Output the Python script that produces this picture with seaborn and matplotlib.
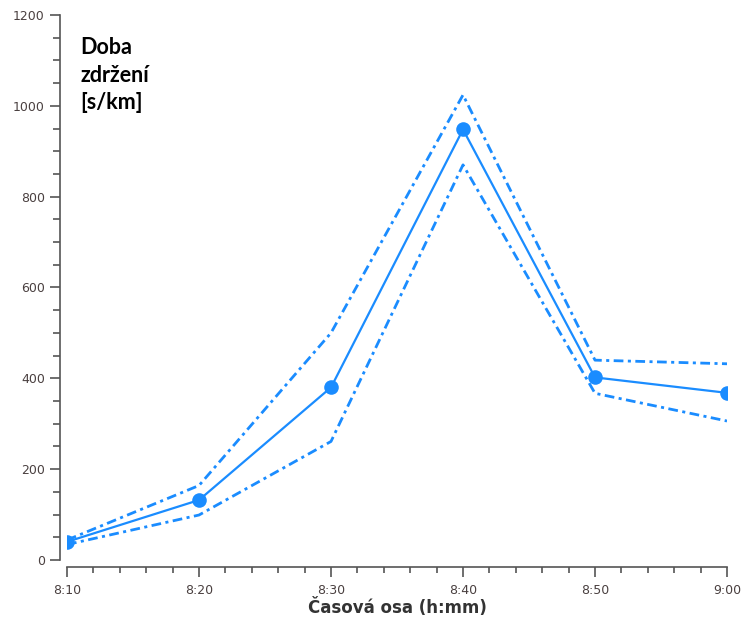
import matplotlib
matplotlib.use('Agg')
import matplotlib.pyplot as plt
import seaborn as sns
import pandas as pd
from matplotlib.ticker import MultipleLocator

# Data
times = ['8:10', '8:20', '8:30', '8:40', '8:50', '9:00']
delay_mean = [40, 132, 380, 948, 402, 368]
delay_upper = [44, 164, 500, 1024, 440, 432]
delay_lower = [34, 99, 261, 870, 367, 306]

blue = '#1a8cff'

sns.set_theme(style='ticks')
plt.rcParams['font.family'] = ['DejaVu Sans']

# minutes since 8:10 for plotting
minutes = [int(t.split(':')[0]) * 60 + int(t.split(':')[1]) for t in times]
minutes = [m - minutes[0] for m in minutes]
df = pd.DataFrame({'min': minutes, 'mean': delay_mean,
                   'upper': delay_upper, 'lower': delay_lower})

fig = plt.figure(figsize=(7.42, 6.22), dpi=100)
ax = fig.add_axes([0.0903, 0.0997, 0.8895, 0.8762])

dashdot = (0, (3.5, 1.6, 1.1, 1.6))
sns.lineplot(data=df, x='min', y='upper', ax=ax, color=blue, lw=2, linestyle=dashdot)
sns.lineplot(data=df, x='min', y='lower', ax=ax, color=blue, lw=2, linestyle=dashdot)
sns.lineplot(data=df, x='min', y='mean', ax=ax, color=blue, lw=1.6,
             marker='o', markersize=10.5, markeredgewidth=0)

ax.set_xlim(minutes[0], minutes[-1])
ax.set_ylim(0, 1200)
ax.set_xticks(minutes)
ax.set_xticklabels(times)
ax.xaxis.set_minor_locator(MultipleLocator(2))
ax.yaxis.set_major_locator(MultipleLocator(200))
ax.yaxis.set_minor_locator(MultipleLocator(50))

sns.despine(ax=ax)
ax.spines['left'].set_position(('outward', 5))
ax.spines['bottom'].set_position(('outward', 5))
for s in ['left', 'bottom']:
    ax.spines[s].set_color('#555555')
    ax.spines[s].set_linewidth(1.2)

ax.tick_params(axis='y', which='major', length=7, width=1.2, color='#555555',
               labelsize=9, labelcolor='#4a4040', pad=4)
ax.tick_params(axis='y', which='minor', length=5, width=1.2, color='#555555')
ax.tick_params(axis='x', which='major', length=7, width=1.2, color='#555555',
               labelsize=9, labelcolor='#4a4040', pad=5)
ax.tick_params(axis='x', which='minor', length=4, width=1.2, color='#555555')

ax.set_xlabel('Časová osa (h:mm)', fontsize=12, fontweight='bold', color='#333333', labelpad=1)
ax.set_ylabel('')

ax.text(0.02, 0.96, 'Doba\nzdržení\n[s/km]', transform=ax.transAxes, fontsize=15.5,
        fontweight='bold', family=['Lato', 'DejaVu Sans'], va='top', ha='left',
        linespacing=1.4, color='black')

fig.savefig('out.png', dpi=100)
